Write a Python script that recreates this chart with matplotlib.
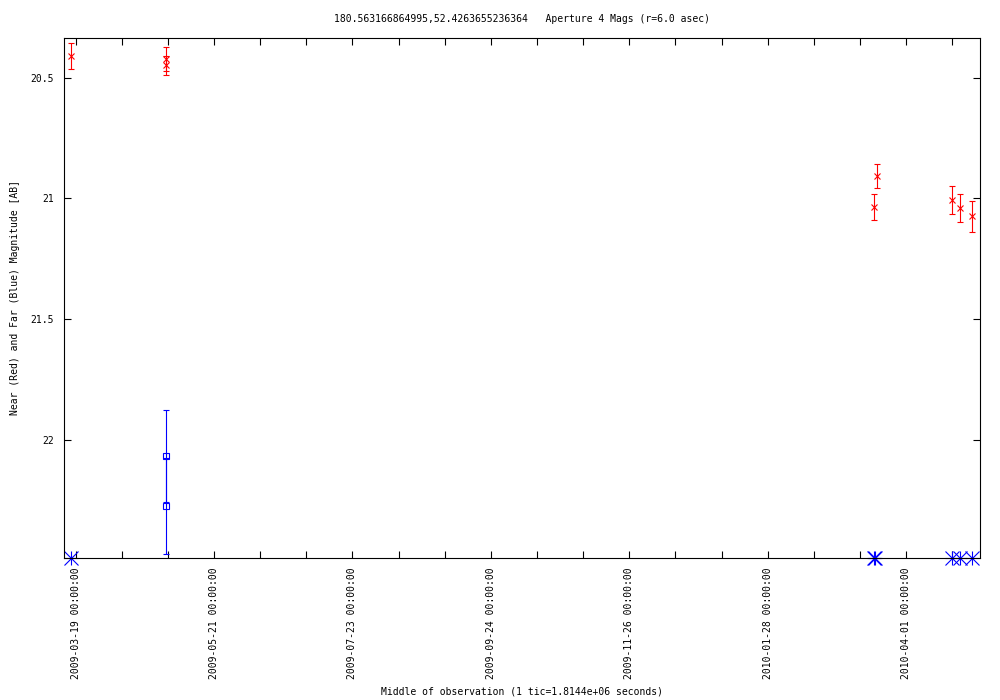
import pandas as pd
import matplotlib.pyplot as plt
import matplotlib.dates as mdates

plt.rcParams['font.family'] = ['DejaVu Sans Mono']
plt.rcParams['font.size'] = 7

# near (red) aperture magnitudes
near_time = pd.to_datetime(['2009-03-16 17:00', '2009-04-28 21:00', '2009-04-28 21:00',
                            '2010-03-17 13:30', '2010-03-18 15:30', '2010-04-22 01:40',
                            '2010-04-25 17:00', '2010-05-01 04:00'])
near_mag = [20.411, 20.423, 20.449, 21.036, 20.907, 21.007, 21.040, 21.074]
near_err = [0.054, 0.048, 0.040, 0.054, 0.050, 0.058, 0.058, 0.063]

# far (blue) detections with errors
far_time = pd.to_datetime(['2009-04-28 21:10', '2009-04-28 21:10'])
far_mag = [22.065, 22.273]
far_err = [0.190, 0.199]

# far (blue) points pinned to the bottom of the range
far_low_time = pd.to_datetime(['2009-03-16 17:00', '2010-03-17 13:30', '2010-03-18 00:00',
                               '2010-04-22 01:40', '2010-04-25 17:00', '2010-05-01 04:00'])
far_low_mag = [22.488] * 6

y_range = (22.488, 20.336)
x_range = pd.to_datetime(['2009-03-13 16:00', '2010-05-04 16:00'])
tick_start = pd.Timestamp('2009-03-19')

fig = plt.figure(figsize=(10, 7), dpi=100)
ax = fig.add_axes([0.064, 0.2029, 0.916, 0.7428])

ax.errorbar(near_time, near_mag, yerr=near_err, fmt='x', color='red', ms=5, mew=0.8,
            elinewidth=0.8, capsize=2.4, capthick=0.8)
ax.errorbar(far_time, far_mag, yerr=far_err, fmt='s', color='blue', mfc='none', ms=4.8,
            mew=0.8, elinewidth=0.8, capsize=2.4, capthick=0.8, clip_on=False)
ax.plot(far_low_time, far_low_mag, '+', color='blue', ms=9.5, mew=0.8, clip_on=False)
ax.plot(far_low_time, far_low_mag, 'x', color='blue', ms=9.5, mew=0.8, clip_on=False)

minor = pd.date_range(tick_start, x_range[1], freq='21D')
major = pd.date_range(tick_start, x_range[1], freq='63D')
ax.set_xticks(major)
ax.set_xticks(minor, minor=True)
ax.xaxis.set_major_formatter(mdates.DateFormatter('%Y-%m-%d %H:%M:%S'))
ax.set_yticks([20.5, 21, 21.5, 22])
ax.set_yticklabels(['20.5', '21', '21.5', '22'])

ax.set_xlim(x_range[0], x_range[1])
ax.set_ylim(y_range)

ax.tick_params(which='both', direction='in', top=True, right=True, length=5, width=0.8)
ax.tick_params(axis='x', which='major', pad=6.5, labelrotation=90)
ax.tick_params(axis='y', pad=7)
for s in ax.spines.values():
    s.set_linewidth(0.8)

ax.set_title('180.563166864995,52.4263655236364   Aperture 4 Mags (r=6.0 asec)',
             fontsize=7, pad=11.5)
ax.set_xlabel('Middle of observation (1 tic=1.8144e+06 seconds)', labelpad=5.5)
ax.set_ylabel('Near (Red) and Far (Blue) Magnitude [AB]', labelpad=8)

plt.savefig('out.png')
